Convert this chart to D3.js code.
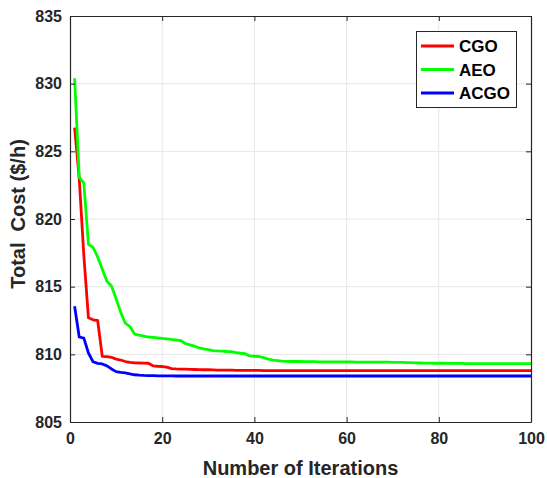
<!DOCTYPE html>
<html>
<head>
<meta charset="utf-8">
<script src="https://cdn.jsdelivr.net/npm/d3@7/dist/d3.min.js"></script>
<style>
  html, body { margin: 0; padding: 0; background: #fff; }
  svg { display: block; font-family: "Liberation Sans", Arial, Helvetica, sans-serif; }
</style>
</head>
<body>
<svg id="chart" width="547" height="478"></svg>
<script>
// Convergence curves: best total cost per iteration
const iterations = d3.range(1, 101);

const cgo = [
  826.75, 823.0, 817.3, 812.7, 812.55, 812.5, 809.85, 809.83, 809.78, 809.65,
  809.58, 809.47, 809.40, 809.37, 809.36, 809.35, 809.34, 809.15, 809.12, 809.10,
  809.05, 808.94, 808.92, 808.91, 808.90, 808.89, 808.88, 808.87, 808.86, 808.86,
  808.85, 808.84, 808.84, 808.83, 808.83, 808.82, 808.82, 808.82, 808.81, 808.81,
  808.81, 808.80, 808.80, 808.80, 808.80, 808.80, 808.80, 808.79, 808.79, 808.79,
  808.79, 808.79, 808.79, 808.79, 808.79, 808.79, 808.79, 808.79, 808.79, 808.79,
  808.79, 808.79, 808.79, 808.79, 808.79, 808.79, 808.79, 808.79, 808.79, 808.79,
  808.79, 808.79, 808.79, 808.79, 808.79, 808.79, 808.79, 808.79, 808.79, 808.79,
  808.79, 808.79, 808.79, 808.79, 808.79, 808.79, 808.79, 808.79, 808.79, 808.79,
  808.79, 808.79, 808.79, 808.79, 808.79, 808.79, 808.79, 808.79, 808.79, 808.79
];

const aeo = [
  830.4, 823.1, 822.65, 818.13, 817.9, 817.2, 816.3, 815.4, 815.05, 814.1,
  813.1, 812.3, 812.05, 811.5, 811.42, 811.35, 811.28, 811.25, 811.22, 811.18,
  811.15, 811.1, 811.06, 811.02, 810.8, 810.7, 810.6, 810.48, 810.4, 810.35,
  810.28, 810.25, 810.23, 810.21, 810.2, 810.12, 810.08, 810.05, 809.88, 809.86,
  809.84, 809.75, 809.65, 809.58, 809.54, 809.5, 809.48, 809.47, 809.47, 809.47,
  809.46, 809.46, 809.46, 809.45, 809.45, 809.45, 809.45, 809.44, 809.44, 809.44,
  809.44, 809.43, 809.43, 809.43, 809.43, 809.42, 809.42, 809.42, 809.42, 809.41,
  809.41, 809.40, 809.39, 809.38, 809.37, 809.36, 809.35, 809.35, 809.34, 809.34,
  809.34, 809.33, 809.33, 809.33, 809.33, 809.32, 809.32, 809.32, 809.32, 809.32,
  809.31, 809.31, 809.31, 809.31, 809.31, 809.31, 809.31, 809.31, 809.31, 809.31
];

const acgo = [
  813.55, 811.28, 811.2, 810.1, 809.45, 809.33, 809.29, 809.15, 808.92, 808.72,
  808.67, 808.63, 808.55, 808.49, 808.46, 808.44, 808.43, 808.42, 808.41, 808.41,
  808.41, 808.41, 808.40, 808.40, 808.40, 808.40, 808.40, 808.40, 808.40, 808.40,
  808.40, 808.40, 808.40, 808.40, 808.40, 808.40, 808.40, 808.40, 808.40, 808.40,
  808.40, 808.40, 808.40, 808.40, 808.40, 808.40, 808.40, 808.40, 808.40, 808.40,
  808.40, 808.40, 808.40, 808.40, 808.40, 808.40, 808.40, 808.40, 808.40, 808.40,
  808.40, 808.40, 808.40, 808.40, 808.40, 808.40, 808.40, 808.40, 808.40, 808.40,
  808.40, 808.40, 808.40, 808.40, 808.40, 808.40, 808.40, 808.40, 808.40, 808.40,
  808.40, 808.40, 808.40, 808.40, 808.40, 808.40, 808.40, 808.40, 808.40, 808.40,
  808.40, 808.40, 808.40, 808.40, 808.40, 808.40, 808.40, 808.40, 808.40, 808.40
];

const seriesNames = ["CGO", "AEO", "ACGO"];
const seriesColors = ["#ff0000", "#00ff00", "#0000ff"];
const seriesValues = [cgo, aeo, acgo];

const xTicks = [0, 20, 40, 60, 80, 100];
const yTicks = [805, 810, 815, 820, 825, 830, 835];

const xLabel = "Number of Iterations";
const yLabel = "Total  Cost ($/h)";

// Layout
const plotLeft = 70, plotRight = 531, plotTop = 16, plotBottom = 422;
const axisColor = "#262626";
const tickLen = 5;
const curveWidth = 2.8;

const svg = d3.select("#chart");

const x = d3.scaleLinear().domain([0, 100]).range([plotLeft, plotRight]);
const y = d3.scaleLinear().domain([805, 835]).range([plotBottom, plotTop]);

// Grid
const grid = svg.append("g").attr("stroke", "#e6e6e6").attr("stroke-width", 1);
grid.selectAll("line.gx").data(xTicks.slice(1, -1)).join("line")
  .attr("class", "gx")
  .attr("x1", d => x(d)).attr("x2", d => x(d))
  .attr("y1", plotTop).attr("y2", plotBottom);
grid.selectAll("line.gy").data(yTicks.slice(1, -1)).join("line")
  .attr("class", "gy")
  .attr("x1", plotLeft).attr("x2", plotRight)
  .attr("y1", d => y(d)).attr("y2", d => y(d));

// Curves
const line = d3.line()
  .x((d, i) => x(iterations[i]))
  .y(d => y(d));

svg.append("g").selectAll("path").data(seriesValues).join("path")
  .attr("d", d => line(d))
  .attr("fill", "none")
  .attr("stroke", (d, i) => seriesColors[i])
  .attr("stroke-width", curveWidth)
  .attr("stroke-linejoin", "round");

// Axes (ticks point inward, box on all four sides)
const fmt = d3.format("d");
const tickFont = "bold 16px 'Liberation Sans', Arial, sans-serif";

function styleAxis(g) {
  g.attr("font-family", null).attr("font-size", null);
  g.selectAll("path.domain").attr("stroke", axisColor).attr("stroke-width", 1.2);
  g.selectAll(".tick line").attr("stroke", axisColor).attr("stroke-width", 1);
  g.selectAll(".tick text").attr("fill", axisColor).style("font", tickFont);
}

svg.append("g").attr("transform", `translate(0,${plotBottom})`)
  .call(d3.axisBottom(x).tickValues(xTicks).tickFormat(fmt)
    .tickSizeInner(-tickLen).tickSizeOuter(0).tickPadding(11))
  .call(styleAxis);

svg.append("g").attr("transform", `translate(${plotLeft},0)`)
  .call(d3.axisLeft(y).tickValues(yTicks).tickFormat(fmt)
    .tickSizeInner(-tickLen).tickSizeOuter(0).tickPadding(8))
  .call(styleAxis);

svg.append("g").attr("transform", `translate(0,${plotTop})`)
  .call(d3.axisTop(x).tickValues(xTicks).tickFormat("")
    .tickSizeInner(-tickLen).tickSizeOuter(0))
  .call(styleAxis);

svg.append("g").attr("transform", `translate(${plotRight},0)`)
  .call(d3.axisRight(y).tickValues(yTicks).tickFormat("")
    .tickSizeInner(-tickLen).tickSizeOuter(0))
  .call(styleAxis);

// Axis titles
svg.append("text")
  .attr("x", (plotLeft + plotRight) / 2).attr("y", 475)
  .attr("text-anchor", "middle")
  .attr("fill", axisColor)
  .style("font", "bold 20px 'Liberation Sans', Arial, sans-serif")
  .text(xLabel);

svg.append("text")
  .attr("transform", "translate(25,214) rotate(-90)")
  .attr("text-anchor", "middle")
  .attr("fill", axisColor)
  .style("font", "bold 20px 'Liberation Sans', Arial, sans-serif")
  .style("white-space", "pre")
  .text(yLabel);

// Legend
const legend = svg.append("g");
legend.append("rect")
  .attr("x", 416.5).attr("y", 31.5).attr("width", 100).attr("height", 76)
  .attr("fill", "#fff").attr("stroke", axisColor).attr("stroke-width", 1);

const rowY = d3.scalePoint().domain(seriesNames).range([46, 93]);
const rows = legend.selectAll("g.row").data(seriesNames).join("g")
  .attr("class", "row")
  .attr("transform", d => `translate(0,${rowY(d)})`);
rows.append("line")
  .attr("x1", 421).attr("x2", 454).attr("y1", 0).attr("y2", 0)
  .attr("stroke", (d, i) => seriesColors[i]).attr("stroke-width", curveWidth);
rows.append("text")
  .attr("x", 459).attr("y", 0).attr("dy", "0.36em")
  .attr("fill", "#000")
  .style("font", "bold 17px 'Liberation Sans', Arial, sans-serif")
  .text(d => d);
</script>
</body>
</html>
